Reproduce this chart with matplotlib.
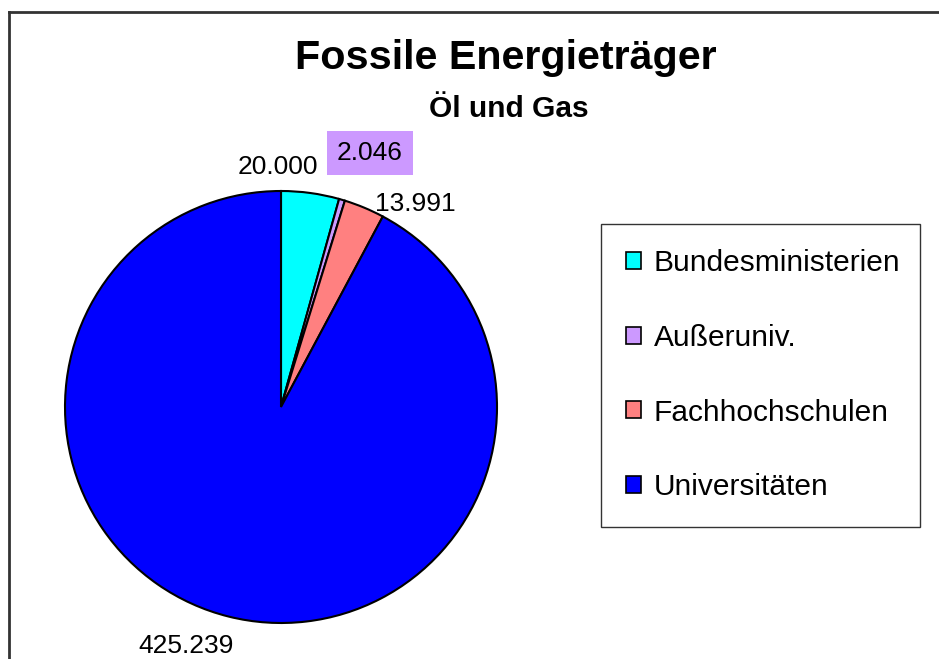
import numpy as np
import matplotlib
matplotlib.use('Agg')
import matplotlib.pyplot as plt
from matplotlib.patches import Patch
from matplotlib.lines import Line2D

plt.rcParams['font.family'] = ['Liberation Sans', 'DejaVu Sans']

# Data
categories = ['Bundesministerien', 'Außeruniv.', 'Fachhochschulen', 'Universitäten']
values = [20000, 2046, 13991, 425239]
value_labels = ['20.000', '2.046', '13.991', '425.239']
colors = ['#00FFFF', '#CC99FF', '#FF8080', '#0000FF']

# label offsets (pixels) from the wedge edge midpoint
label_offsets = [(-32, 26), (28, 47), (51, 4), (-42, -29)]

W, H = 939, 659
fig = plt.figure(figsize=(W / 100, H / 100), dpi=100)

# outer frame (only top and left edges visible)
fig.add_artist(Line2D([8.5 / W, 8.5 / W], [0, 1 - 12 / H], color='#333333', lw=2,
                      transform=fig.transFigure))
fig.add_artist(Line2D([8.5 / W, 1], [1 - 12 / H, 1 - 12 / H], color='#333333', lw=2,
                      transform=fig.transFigure))

# pie axes: center (281, 407) px, radius 216 px
cx, cy, r = 281, 407, 216
ax = fig.add_axes([(cx - r) / W, (H - cy - r) / H, 2 * r / W, 2 * r / H])
wedges, _ = ax.pie(values, colors=colors, startangle=90, counterclock=False, radius=1,
                   wedgeprops=dict(edgecolor='black', linewidth=1.5))
ax.set_xlim(-1, 1)
ax.set_ylim(-1, 1)
ax.set_aspect('equal')
ax.axis('off')

for i, w in enumerate(wedges):
    ang = np.deg2rad((w.theta1 + w.theta2) / 2)
    kw = {}
    if i == 1:
        kw['bbox'] = dict(boxstyle='square,pad=0.38', facecolor=colors[1], edgecolor='none')
    ax.annotate(value_labels[i], xy=(np.cos(ang), np.sin(ang)), xytext=label_offsets[i],
                textcoords='offset pixels', ha='center', va='center', fontsize=19,
                annotation_clip=False, **kw)

# titles
fig.text(506 / W, 1 - 58 / H, 'Fossile Energieträger', ha='center', va='center',
         fontsize=29.7, fontweight='bold')
fig.text(509 / W, 1 - 109 / H, 'Öl und Gas', ha='center', va='center',
         fontsize=21.5, fontweight='bold')

# legend
handles = [Patch(facecolor=c, edgecolor='black', linewidth=1.2) for c in colors]
leg = fig.legend(handles, categories, loc='upper left',
                 bbox_to_anchor=(601 / W, 1 - 525 / H, 319 / W, 301 / H),
                 mode='expand', fontsize=21.5, frameon=True, fancybox=False,
                 edgecolor='black', borderpad=0.85, labelspacing=1.56,
                 handlelength=0.5, handleheight=0.5, handletextpad=0.42,
                 borderaxespad=0)
leg.get_frame().set_linewidth(1)

fig.savefig('out.png', dpi=100, facecolor='white')
